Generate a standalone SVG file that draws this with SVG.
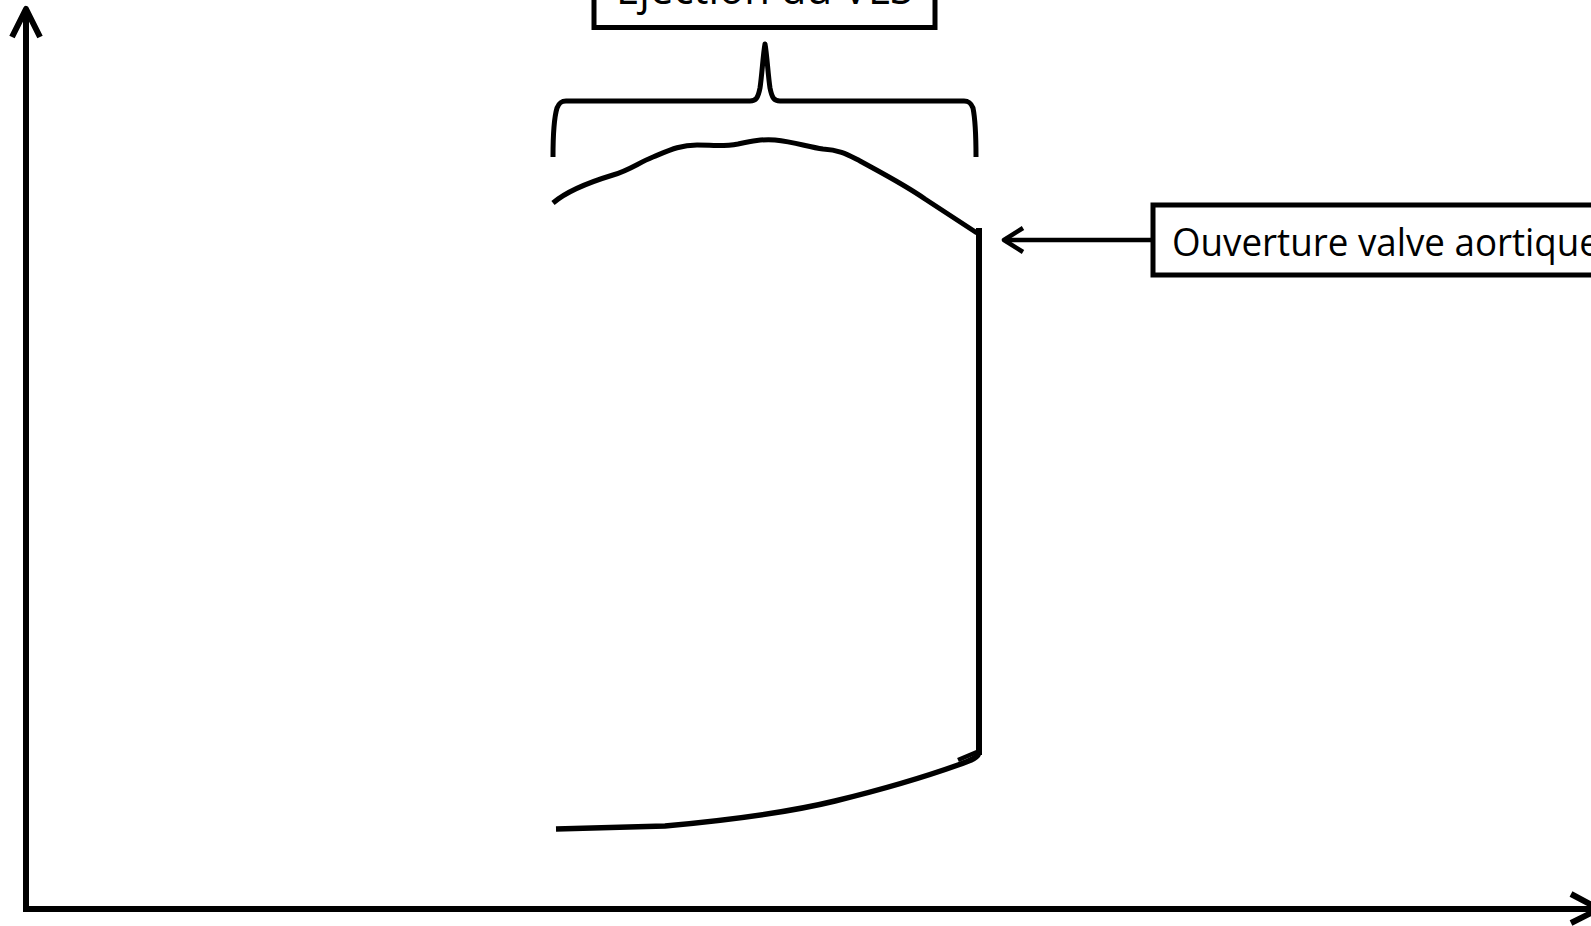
<svg xmlns="http://www.w3.org/2000/svg" width="1591" height="926" viewBox="0 0 1591 926">
  <style>
    .ln { fill: none; stroke: #000; stroke-linecap: butt; stroke-linejoin: round; }
    .box { fill: #fff; stroke: #000; stroke-width: 5; }
    .lbl { font-family: "Open Sans", "Noto Sans", sans-serif; fill: #000; }
  </style>
  <rect width="1591" height="926" fill="#fff"/>
  <g id="axes">
    <path class="ln" d="M26,909 L26,9" stroke-width="6"/>
    <path class="ln" d="M12,37 L26,9 L40,37" stroke-width="6" stroke-linecap="round"/>
    <path class="ln" d="M23,909 L1598,909" stroke-width="6"/>
    <path class="ln" d="M1571,894 L1599,909 L1571,923" stroke-width="6" stroke-linecap="round"/>
  </g>
  <g id="curve">
    <path class="ln" stroke-width="5" d="M553,203 C568,190 590,182 613,175 C630,170 638,163 653,157 C670,150 680,145 697,145 C712,145 722,147 738,144 C752,141 762,139 775,140 C795,142 808,147 823,149 C840,150 848,155 860,161 C880,172 905,185 925,199 L977,233"/>
    <path class="ln" stroke-width="6" d="M979,228 L979,755"/>
    <path class="ln" stroke-width="5.5" d="M556,829 L665,826 C720,821 790,812 835,801 C880,790 930,775 958,765 C972,760 979,757 979,752"/>
    <path class="ln" stroke-width="4.5" d="M958,760 L977,752"/>
  </g>
  <g id="brace">
    <path class="ln" stroke-width="5" d="M553,157 C553,135 554,118 557,108 C559,103 561,101 566,101 L750,101 C756,101 758,98 760,88 C762,75 763,55 765,44 C767,55 768,75 770,88 C772,98 774,101 780,101 L964,101 C969,101 971,103 973,108 C975,118 976,135 976,157"/>
  </g>
  <g id="node-ejection">
    <rect class="box" x="594" y="-60" width="341" height="87.5"/>
    <text class="lbl" x="616" y="3.5" font-size="43" textLength="297" lengthAdjust="spacingAndGlyphs">Ejection du VLS</text>
  </g>
  <g id="node-ouverture">
    <rect class="box" x="1153" y="205" width="500" height="70"/>
    <text class="lbl" x="1172" y="256" font-size="39" textLength="428" lengthAdjust="spacingAndGlyphs">Ouverture valve aortique</text>
  </g>
  <g id="connectors">
    <path class="ln" stroke-width="4.5" d="M1151,240 L1005,240"/>
    <path class="ln" stroke-width="4.5" stroke-linecap="round" d="M1023,228 L1004,240 L1023,252"/>
  </g>
</svg>
